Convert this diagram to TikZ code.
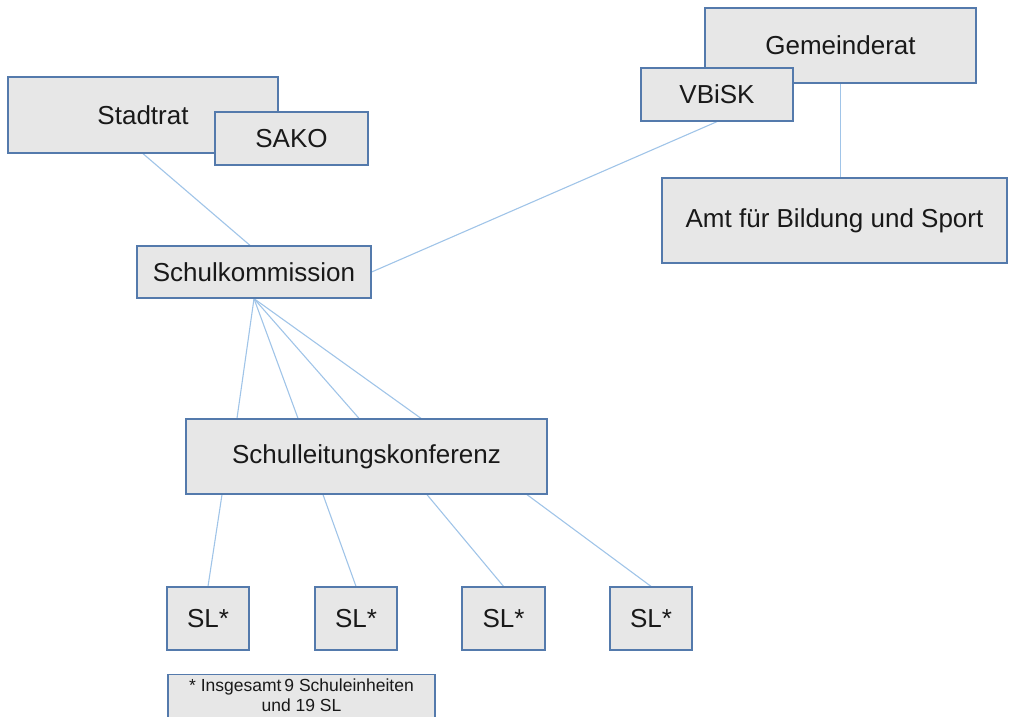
\documentclass[tikz,border=0pt]{standalone}
\usepackage{fontspec}
\setmainfont{Liberation Sans}
\usetikzlibrary{calc}
\pgfdeclarelayer{background}
\pgfsetlayers{background,main}
\definecolor{boxfill}{RGB}{231,231,231}
\definecolor{boxline}{RGB}{84,122,172}
\definecolor{linkline}{RGB}{160,196,232}
\definecolor{txt}{RGB}{25,25,25}
\tikzset{
  box/.style={draw=boxline, line width=1.3pt, fill=boxfill, rectangle, inner sep=0pt, font=\fontsize{26}{30}\selectfont, text=txt},
  notebox/.style={box, font=\fontsize{17.5}{19.5}\selectfont, align=center},
  link/.style={draw=linkline, line width=1.1pt},
}
\begin{document}
\begin{tikzpicture}[x=1pt,y=-1pt]
\useasboundingbox (0,0) rectangle (1009,717);
\clip (0,0) rectangle (1009,717);
% boxes
\node[box, minimum width=270pt, minimum height=76pt] (st) at (143,115) {Stadtrat};
\node[box, minimum width=153pt, minimum height=53pt] (sako) at (291.5,138.5) {SAKO};
\node[box, minimum width=271pt, minimum height=75pt] (gr) at (840.5,45.5) {Gemeinderat};
\node[box, minimum width=152pt, minimum height=53pt] (vb) at (717,94.5) {VBiSK};
\node[box, minimum width=345pt, minimum height=85pt] (amt) at (834.5,220.5) {Amt für Bildung und Sport};
\node[box, minimum width=234pt, minimum height=52pt] (sk) at (254,272) {Schulkommission};
\node[box, minimum width=361pt, minimum height=75pt] (slk) at (366.5,456.5) {Schulleitungskonferenz};
\node[box, minimum width=82pt, minimum height=63pt] (sl1) at (208,618.5) {SL*};
\node[box, minimum width=82pt, minimum height=63pt] (sl2) at (356,618.5) {SL*};
\node[box, minimum width=83pt, minimum height=63pt] (sl3) at (503.5,618.5) {SL*};
\node[box, minimum width=82pt, minimum height=63pt] (sl4) at (651,618.5) {SL*};
\node[notebox, minimum width=267pt, minimum height=56pt, anchor=north] (note) at (301.5,674) {\rule{0pt}{17pt}* Insgesamt\,9 Schuleinheiten\\und 19 SL\\[8pt]};
% connectors
\begin{pgfonlayer}{background}
\draw[link] (st.south) -- ($(sk.north)+(-4,0)$);
\draw[link] (vb.south) -- (sk.east);
\draw[link] (gr.south) -- (gr.south |- amt.north);
\draw[link] (sk.south) -- ($(slk.north)+(-129.5,0)$);
\draw[link] (sk.south) -- ($(slk.north)+(-68.5,0)$);
\draw[link] (sk.south) -- ($(slk.north)+(-7.5,0)$);
\draw[link] (sk.south) -- ($(slk.north)+(54.5,0)$);
\draw[link] ($(slk.south)+(-144.5,0)$) -- (sl1.north);
\draw[link] ($(slk.south)+(-43.5,0)$) -- (sl2.north);
\draw[link] ($(slk.south)+(60.5,0)$) -- (sl3.north);
\draw[link] ($(slk.south)+(160.5,0)$) -- (sl4.north);
\end{pgfonlayer}
\end{tikzpicture}
\end{document}
